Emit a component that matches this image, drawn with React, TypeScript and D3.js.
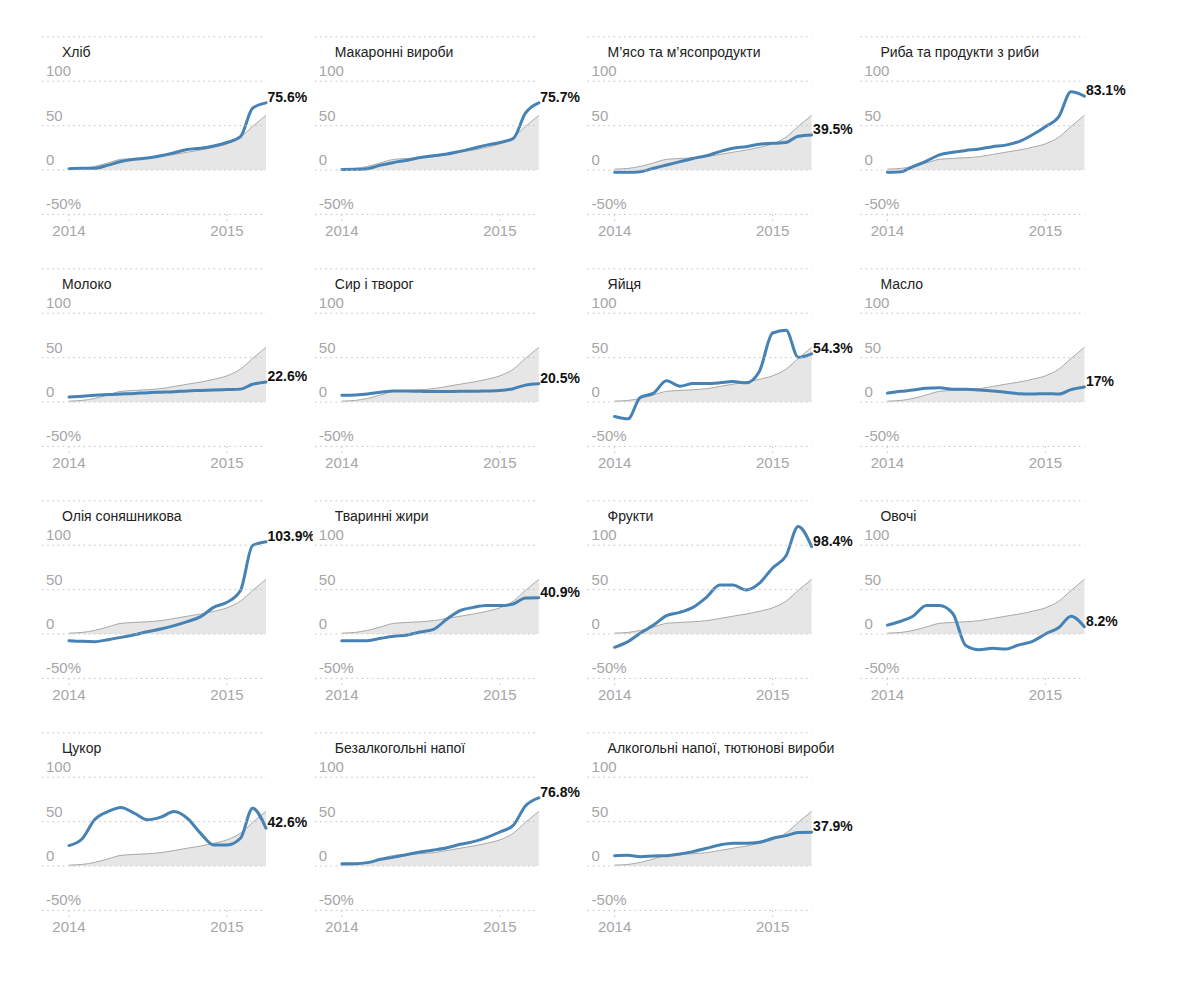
import React from "react";
import * as d3 from "d3";

// Monthly points, Jan 2014 – Apr 2015
const months = [
  "2014-01", "2014-02", "2014-03", "2014-04", "2014-05", "2014-06", "2014-07", "2014-08",
  "2014-09", "2014-10", "2014-11", "2014-12", "2015-01", "2015-02", "2015-03", "2015-04",
];
const xTickLabels = ["2014", "2015"];
const xTickMonths = ["2014-01", "2015-01"];
const yTicks = [100, 50, 0, -50];
const yTickLabels = ["100", "50", "0", "-50%"];
const yGrid = [150, 100, 50, 0, -50];

// Overall price index (grey area)
const cpi = [1, 1.8, 4, 8, 12, 13, 13.8, 15, 17.5, 20, 22.5, 25.5, 29.5, 37, 49, 61.5];

const categories = [
  "Хліб",
  "Макаронні вироби",
  "М’ясо та м’ясопродукти",
  "Риба та продукти з риби",
  "Молоко",
  "Сир і творог",
  "Яйця",
  "Масло",
  "Олія соняшникова",
  "Тваринні жири",
  "Фрукти",
  "Овочі",
  "Цукор",
  "Безалкогольні напої",
  "Алкогольні напої, тютюнові вироби",
];

const khlib = [1.5, 2, 2, 5.5, 9.5, 12, 13.5, 16, 19.5, 23, 24.5, 27, 31, 37.5, 69.5, 75.6];
const makaronni = [0.7, 0.8, 1.5, 5.5, 8.5, 11, 14, 16, 18, 21, 24.5, 28, 31, 35.5, 64, 75.7];
const miaso = [-2.6, -2.6, -2, 2, 5.6, 9.4, 13, 16, 20.7, 24.4, 26.3, 29, 30, 31, 38, 39.5];
const ryba = [-2.6, -2, 3.8, 10, 17, 20, 22, 23.7, 26.3, 28, 32, 39.4, 48.8, 60, 88, 83.1];
const moloko = [5.5, 6.5, 7.5, 8.5, 9, 9.5, 10.5, 11, 11.5, 12.5, 13, 13.5, 14, 14.5, 20, 22.6];
const syr = [7.5, 8, 9, 11, 12.4, 12.4, 12, 11.7, 11.7, 12, 12, 12.4, 13, 15, 19, 20.5];
const yaitsia = [-16.3, -19, 5, 10, 23.9, 17.8, 20.8, 20.8, 21.6, 23, 21.6, 34, 77.7, 80.7, 50.4, 54.3];
const maslo = [10, 12, 13.5, 15.4, 16, 14.3, 14.3, 13.5, 12.4, 10.9, 9.4, 9, 9.4, 9, 14, 17];
const oliia = [-7.5, -8.3, -8.6, -6.4, -3.8, -0.8, 2.6, 5.6, 9.4, 13.9, 19.5, 30, 35.7, 48.9, 99.6, 103.9];
const zhyry = [-7.5, -7.5, -7.5, -4.9, -2.6, -1.1, 2.3, 5.3, 16.9, 26.3, 30, 32, 32, 33.8, 40.6, 40.9];
const frukty = [-15, -8.6, 0.8, 10, 20.6, 24.4, 30, 41.3, 55.2, 55.2, 49.6, 57, 74.4, 88.2, 121, 98.4];
const ovochi = [10, 14.4, 20, 32, 32, 23, -13, -17.8, -16, -17, -12.2, -8.5, 0, 7.4, 20, 8.2];
const tsukor = [23, 31, 52, 61.3, 66, 59.4, 52, 55, 61.3, 53.8, 36.8, 23.7, 23.7, 31.2, 65, 42.6];
const bezalk = [2.6, 2.6, 3.8, 7.5, 10, 13, 15.8, 18, 20.6, 24.4, 27.4, 32, 38.3, 45.8, 67.6, 76.8];
const alkog = [11.6, 12, 10.5, 11.3, 11.6, 13.5, 16.2, 19.9, 23.7, 25.6, 25.6, 26.7, 31.2, 34.2, 37.6, 37.9];

const seriesValues = [
  khlib, makaronni, miaso, ryba,
  moloko, syr, yaitsia, maslo,
  oliia, zhyry, frukty, ovochi,
  tsukor, bezalk, alkog,
];

const COLS = 4;
const COL_W = 272.8;
const ROW_H = 232;
const FONT = "'Liberation Sans', Arial, Helvetica, sans-serif";

export default function App() {
  const parse = d3.timeParse("%Y-%m");
  const dates = months.map((m) => parse(m) as Date);
  const x = d3.scaleTime().domain([dates[0], dates[dates.length - 1]]).range([69, 266]);
  const y = d3.scaleLinear().domain([-50, 150]).range([214.4, 36.8]);
  const [xLeft, xRight] = x.range();

  const line = d3
    .line<number>()
    .x((_, i) => x(dates[i]))
    .y((d) => y(d))
    .curve(d3.curveMonotoneX);
  const area = d3
    .area<number>()
    .x((_, i) => x(dates[i]))
    .y0(y(0))
    .y1((d) => y(d))
    .curve(d3.curveMonotoneX);

  const gridStyle = { stroke: "#c4c4c4", strokeWidth: 1, strokeDasharray: "1.6,3.6" };

  return (
    <svg
      width={1200}
      height={1000}
      style={{ position: "absolute", left: 0, top: 0, background: "#fff" }}
    >
      <defs>
        <clipPath id="panelClip">
          <rect x={40} y={0} width={COL_W} height={ROW_H + 20} />
        </clipPath>
      </defs>
      {categories.map((name, k) => {
        const col = k % COLS;
        const row = Math.floor(k / COLS);
        const vals = seriesValues[k];
        const last = vals[vals.length - 1];
        return (
          <g key={name} transform={`translate(${col * COL_W},${row * ROW_H})`}>
            <g clipPath="url(#panelClip)">
              <path d={area(cpi) || ""} fill="#e6e6e6" />
              <path d={line(cpi) || ""} fill="none" stroke="#a8a8a8" strokeWidth={1} />
              <path
                d={line(vals) || ""}
                fill="none"
                stroke="#4682b4"
                strokeWidth={3}
                strokeLinejoin="round"
                strokeLinecap="round"
              />
              {yGrid.map((g) => (
                <line key={g} x1={xLeft - 27} x2={xRight} y1={y(g)} y2={y(g)} style={gridStyle} />
              ))}
              {xTickMonths.map((m) => {
                const xx = x(parse(m) as Date);
                return (
                  <line key={m} x1={xx} x2={xx} y1={y(-50)} y2={y(-50) + 9} style={gridStyle} />
                );
              })}
              {yTicks.map((t, i) => (
                <text
                  key={t}
                  x={xLeft - 23}
                  y={y(t) - 5}
                  fontFamily={FONT}
                  fontSize={15}
                  fill="#a6a6a6"
                >
                  {yTickLabels[i]}
                </text>
              ))}
              {xTickMonths.map((m, i) => (
                <text
                  key={m}
                  x={x(parse(m) as Date)}
                  y={236}
                  textAnchor="middle"
                  fontFamily={FONT}
                  fontSize={15}
                  fill="#a6a6a6"
                >
                  {xTickLabels[i]}
                </text>
              ))}
              <text x={xLeft - 7} y={57} fontFamily={FONT} fontSize={14} fill="#222">
                {name}
              </text>
              <text
                x={xRight + 1.5}
                y={y(last) - 1}
                fontFamily={FONT}
                fontSize={14}
                fontWeight="bold"
                fill="#111"
              >
                {`${last}%`}
              </text>
            </g>
          </g>
        );
      })}
    </svg>
  );
}
